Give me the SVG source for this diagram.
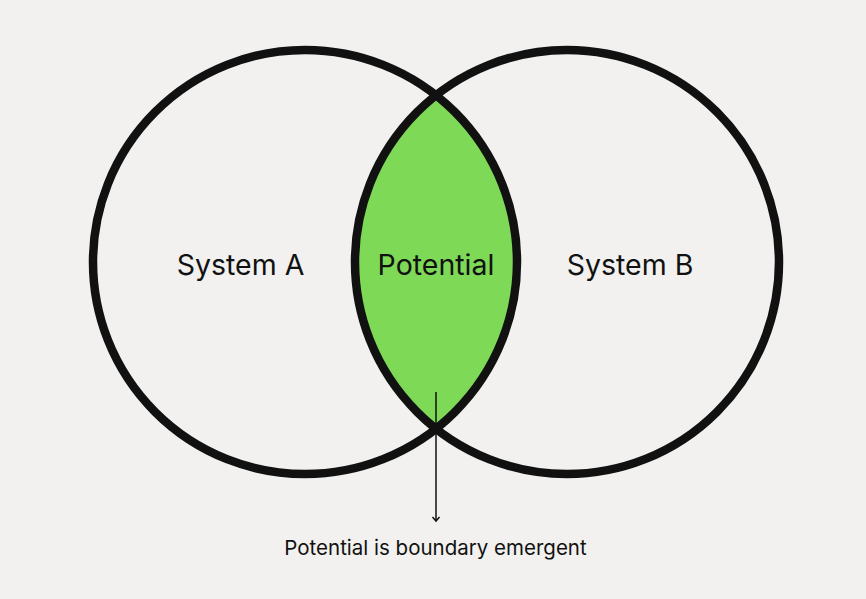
<svg xmlns="http://www.w3.org/2000/svg" width="866" height="599" viewBox="0 0 866 599">
<defs>
<style>
.ring{fill:none;stroke:#111;stroke-width:8.5}
.lbl{font-family:Inter,"Noto Sans",sans-serif;font-size:28.5px;fill:#111;text-anchor:middle}
.note{font-family:Inter,"Noto Sans",sans-serif;font-size:20.5px;fill:#111;text-anchor:middle}
</style>
<marker id="ah" viewBox="0 0 10 10" refX="8.5" refY="5" markerWidth="10" markerHeight="10" markerUnits="userSpaceOnUse" orient="auto">
<path d="M4.5 1.5 L8.5 5 L4.5 8.5" fill="none" stroke="#111" stroke-width="1.5"/>
</marker>
</defs>
<rect width="866" height="599" fill="#F2F1EF"/>
<g id="potential">
<path d="M436 95.3 A212 212 0 0 1 436 428.7 A212 212 0 0 1 436 95.3 Z" fill="#7ED957"/>
<text class="lbl" x="436" y="275">Potential</text>
</g>
<g id="systemA">
<circle class="ring" cx="305" cy="262" r="212"/>
<text class="lbl" x="240.5" y="275">System A</text>
</g>
<g id="systemB">
<circle class="ring" cx="567" cy="262" r="212"/>
<text class="lbl" x="630" y="275">System B</text>
</g>
<g id="connectors">
<line x1="436" y1="392" x2="436" y2="521" stroke="#111" stroke-width="1.5" marker-end="url(#ah)"/>
</g>
<g id="note">
<text class="note" x="435.5" y="555">Potential is boundary emergent</text>
</g>
</svg>
